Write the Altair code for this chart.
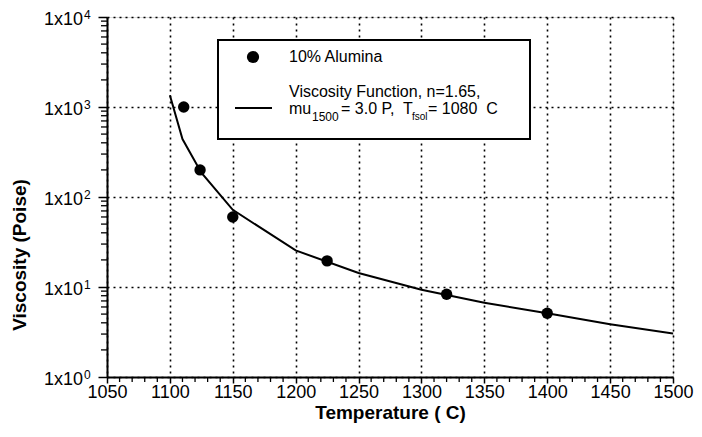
import altair as alt
import pandas as pd

# measured points (10% Alumina)
temp_pts = [1111, 1124, 1150, 1225, 1320, 1400]
visc_pts = [1000, 200, 60, 19.5, 8.3, 5.1]

# viscosity function curve
temp_curve = [1100, 1110, 1125, 1150, 1200, 1250, 1300, 1350, 1400, 1450, 1500]
visc_curve = [1350, 440, 186, 72, 25.5, 14.3, 9.3, 6.7, 5.1, 3.85, 3.05]

x_ticks = [1050, 1100, 1150, 1200, 1250, 1300, 1350, 1400, 1450, 1500]
x_minor = [t for t in range(1050, 1501, 10) if t % 50]
y_ticks = [1, 10, 100, 1000, 10000]
y_base = ["1x10"] * 5
y_exps = ["0", "1", "2", "3", "4"]
y_minor = [m * 10 ** k for k in range(4) for m in range(2, 10)]

FONT = "Liberation Sans"
W, H = 566, 360

xscale = alt.Scale(domain=[1050, 1500], nice=False, zero=False)
yscale = alt.Scale(type="log", domain=[1, 10000], nice=False)

xaxis = alt.Axis(values=x_ticks, title="Temperature ( C)", format="d",
                 labelFontSize=18, labelFont=FONT, labelColor="black",
                 labelFlush=False, labelOverlap=False,
                 titleFontSize=19, titleFont=FONT, titleFontWeight="bold", titleColor="black",
                 tickSize=6, tickColor="black", tickWidth=1.5, labelPadding=0, titlePadding=2,
                 domainColor="black", domainWidth=2,
                 grid=True, gridColor="black", gridDash=[2, 4], gridWidth=1.6, gridOpacity=1)
yaxis = alt.Axis(values=y_ticks, title=None, labels=False,
                 tickSize=9, tickColor="black", tickWidth=1.5,
                 domainColor="black", domainWidth=2,
                 grid=True, gridColor="black", gridDash=[2, 4], gridWidth=1.6, gridOpacity=1)

df_pts = pd.DataFrame({"T": temp_pts, "mu": visc_pts})
df_curve = pd.DataFrame({"T": temp_curve, "mu": visc_curve})
df_xm = pd.DataFrame({"T": x_minor})
df_ym = pd.DataFrame({"mu": y_minor})
df_yl = pd.DataFrame({"mu": y_ticks, "base": y_base, "exp": y_exps})
one = pd.DataFrame({"a": [0]})

X = alt.X("T:Q", scale=xscale, axis=xaxis)
Y = alt.Y("mu:Q", scale=yscale, axis=yaxis)

curve = alt.Chart(df_curve).mark_line(color="black", strokeWidth=2, clip=True).encode(x=X, y=Y)
points = alt.Chart(df_pts).mark_circle(color="black", size=130, opacity=1).encode(x=X, y=Y)

xminor = alt.Chart(df_xm).mark_rule(color="black", strokeWidth=1.3).encode(
    x=X, y=alt.value(H), y2=alt.value(H + 5))
yminor = alt.Chart(df_ym).mark_rule(color="black", strokeWidth=1.3).encode(
    y=Y, x=alt.value(0), x2=alt.value(-6))

ylab = alt.Chart(df_yl).mark_text(align="right", baseline="middle", fontSize=18, font=FONT,
                                  color="black", dy=3).encode(
    y=Y, x=alt.value(-24), text="base:N")
yexp = alt.Chart(df_yl).mark_text(align="left", baseline="middle", fontSize=12, font=FONT,
                                  color="black", dy=-2).encode(
    y=Y, x=alt.value(-23), text="exp:N")

ytitle = alt.Chart(one).mark_text(text="Viscosity (Poise)", angle=270, fontSize=19, font=FONT,
                                  fontWeight="bold", color="black", align="center",
                                  baseline="middle").encode(x=alt.value(-87), y=alt.value(238))

box = alt.Chart(one).mark_rect(fill="white", stroke="black", strokeWidth=2).encode(
    x=alt.value(111), x2=alt.value(423), y=alt.value(23), y2=alt.value(122))
ldot = alt.Chart(one).mark_circle(color="black", size=150, opacity=1).encode(
    x=alt.value(146), y=alt.value(40))
lline = alt.Chart(one).mark_rule(color="black", strokeWidth=2).encode(
    x=alt.value(128), x2=alt.value(165), y=alt.value(91))


def txt(s, x, y, size=16):
    return alt.Chart(one).mark_text(text=s, align="left", baseline="alphabetic", fontSize=size,
                                    font=FONT, color="black").encode(x=alt.value(x), y=alt.value(y))


legend_texts = [
    txt("10% Alumina", 182, 45),
    txt("Viscosity Function, n=1.65,", 182, 80),
    txt("mu", 182, 97),
    txt("1500", 205, 104, 12),
    txt("= 3.0 P,", 234, 97),
    txt("T", 296, 97),
    txt("fsol", 305, 103, 10),
    txt("= 1080\u00a0\u00a0C", 321, 97),
]

chart = alt.layer(curve, points, xminor, yminor, ylab, yexp, ytitle, box, ldot, lline,
                  *legend_texts).properties(
    width=W, height=H,
    autosize=alt.AutoSizeParams(type="none"),
    padding={"left": 99, "top": 9, "right": 21, "bottom": 52},
).configure_view(stroke="black", strokeWidth=2).configure(background="white")

chart.save("out.html", embed_options={"renderer": "svg", "actions": False})
